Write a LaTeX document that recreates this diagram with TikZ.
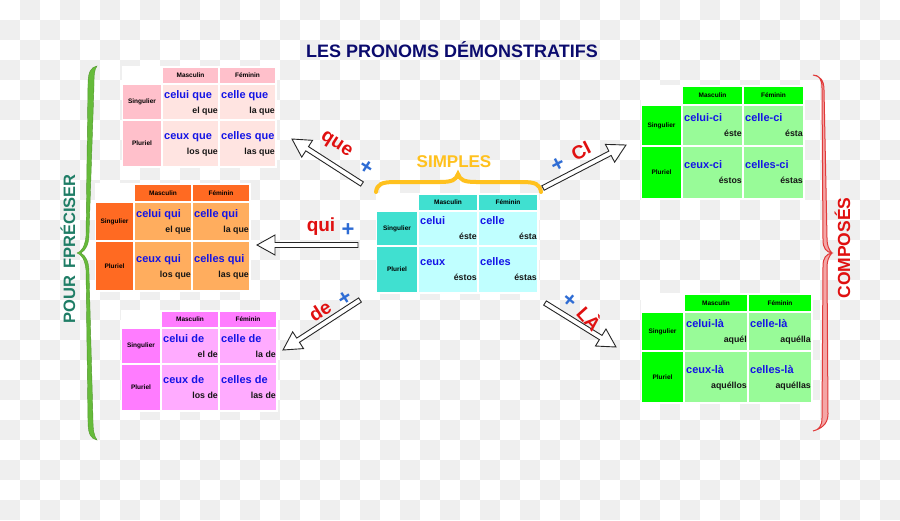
\documentclass[tikz,border=0pt]{standalone}
\usepackage{fontspec}
\setmainfont{Liberation Sans}
\usetikzlibrary{positioning,calc}

\definecolor{checker}{HTML}{EFEFEF}
\definecolor{titleblue}{HTML}{0B0B6E}
\definecolor{celltxt}{HTML}{1414E6}
\definecolor{darktxt}{HTML}{151515}
\definecolor{labelred}{HTML}{E01010}
\definecolor{plusblue}{HTML}{2E6CD4}
\definecolor{gold}{HTML}{FFC11E}
\definecolor{teal}{HTML}{1F7D66}
\definecolor{bracegreen}{HTML}{66BB3A}
\definecolor{bracered}{HTML}{E03A3A}
\definecolor{bracepink}{HTML}{F4A6A6}
\definecolor{quehead}{HTML}{FFC0CB}
\definecolor{quecell}{HTML}{FFE4E1}
\definecolor{quihead}{HTML}{FF6A22}
\definecolor{quicell}{HTML}{FFAD5E}
\definecolor{dehead}{HTML}{FF7CFF}
\definecolor{decell}{HTML}{FFABFF}
\definecolor{simplehead}{HTML}{40E0D0}
\definecolor{simplecell}{HTML}{C0FFFF}
\definecolor{cihead}{HTML}{00FF00}
\definecolor{cicell}{HTML}{98FB98}
\definecolor{lahead}{HTML}{00FF00}
\definecolor{lacell}{HTML}{98FB98}

\tikzset{
	cellbox/.style={inner sep=0pt, outer sep=0pt, font=\fontsize{6.5}{7}\selectfont\bfseries},
	bluetxt/.style={inner sep=0pt, text=celltxt, font=\fontsize{11}{12}\selectfont\bfseries},
	graytxt/.style={inner sep=0pt, text=darktxt, font=\fontsize{8.8}{10}\selectfont\bfseries},
	redtxt/.style={inner sep=0pt, text=labelred, font=\fontsize{19}{20}\selectfont\bfseries},
	plustxt/.style={inner sep=0pt, text=plusblue, font=\fontsize{22}{22}\selectfont\bfseries},
	blockarrow/.style={draw=black!85, line width=0.9pt, fill=white, line join=miter}
}

% table: name, x, y, row head width, col width, head height, sing height, plur height
\newcommand{\pronomtab}[8]{%
	\fill[white] (#2-1,#3-2) rectangle (#2+#4+2*#5+6,#3+#6+#7+#8+6);
	\node[cellbox, fill=#1head, minimum width=#5, minimum height=#6, anchor=north west] (#1-m) at (#2+#4+2,#3) {Masculin};
	\node[cellbox, fill=#1head, minimum width=#5, minimum height=#6, right=2pt of #1-m] (#1-f) {Féminin};
	\node[cellbox, fill=#1head, minimum width=#4, minimum height=#7, below left=2pt and 2pt of #1-m] (#1-s) {Singulier};
	\node[cellbox, fill=#1head, minimum width=#4, minimum height=#8, below=2pt of #1-s] (#1-p) {Pluriel};
	\node[cellbox, fill=#1cell, minimum width=#5, minimum height=#7, below=2pt of #1-m] (#1-sm) {};
	\node[cellbox, fill=#1cell, minimum width=#5, minimum height=#7, below=2pt of #1-f] (#1-sf) {};
	\node[cellbox, fill=#1cell, minimum width=#5, minimum height=#8, below=2pt of #1-sm] (#1-pm) {};
	\node[cellbox, fill=#1cell, minimum width=#5, minimum height=#8, below=2pt of #1-sf] (#1-pf) {};
}

\newcommand{\celltext}[3]{%
	\node[bluetxt, anchor=base west] (#1-b) at ($(#1.west)+(1,-4)$) {#2};
	\node[graytxt, anchor=base east] (#1-n) at ($(#1.east)+(0,11)$) {#3};
}

\newcommand{\hollowarrow}[2]{%
	\coordinate (#2-base) at ($(#2)!18pt!(#1)$);
	\draw[blockarrow] ($(#1)!2.5pt!90:(#2)$) -- ($(#2-base)!2.5pt!90:(#2)$)
		-- ($(#2-base)!10pt!90:(#2)$) -- (#2) -- ($(#2-base)!10pt!-90:(#2)$)
		-- ($(#2-base)!2.5pt!-90:(#2)$) -- ($(#1)!2.5pt!-90:(#2)$) -- cycle;
}

\begin{document}
\begin{tikzpicture}[x=1pt, y=-1pt]
	\useasboundingbox (0,0) rectangle (900,520);
	% background squares
	\fill[white] (0,0) rectangle (900,520);
	\foreach \i in {0,...,44}
		\foreach \j in {0,...,25} {
			\pgfmathtruncatemacro{\odd}{mod(\i+\j,2)}
			\ifnum\odd=1 \fill[checker] (20*\i,20*\j) rectangle ++(20,20); \fi
		}

	\node[anchor=base, text=titleblue, font=\fontsize{18}{20}\selectfont\bfseries] (title) at (452,57) {LES PRONOMS DÉMONSTRATIFS};

	% left tables
	\pronomtab{que}{123}{68}{38}{55}{15}{34}{45}
	\celltext{que-sm}{celui que}{el que}
	\celltext{que-sf}{celle que}{la que}
	\celltext{que-pm}{ceux que}{los que}
	\celltext{que-pf}{celles que}{las que}

	\pronomtab{qui}{96}{185}{37}{56}{16}{37}{48}
	\celltext{qui-sm}{celui qui}{el que}
	\celltext{qui-sf}{celle qui}{la que}
	\celltext{qui-pm}{ceux qui}{los que}
	\celltext{qui-pf}{celles qui}{las que}

	\pronomtab{de}{122}{312}{38}{56}{15}{34}{45}
	\celltext{de-sm}{celui de}{el de}
	\celltext{de-sf}{celle de}{la de}
	\celltext{de-pm}{ceux de}{los de}
	\celltext{de-pf}{celles de}{las de}

	% middle
	\pronomtab{simple}{377}{195}{40}{58}{15}{33}{45}
	\celltext{simple-sm}{celui}{éste}
	\celltext{simple-sf}{celle}{ésta}
	\celltext{simple-pm}{ceux}{éstos}
	\celltext{simple-pf}{celles}{éstas}

	\draw[gold, line width=4pt, line cap=round] (376,192) .. controls (377,184) and (382,182) .. (395,182) -- (440,182)
		.. controls (452,182) and (456,180) .. (458,174) .. controls (460,180) and (464,182) .. (476,182)
		-- (522,182) .. controls (535,182) and (540,184) .. (541,192);
	\node[anchor=base, text=gold, font=\fontsize{17}{18}\selectfont\bfseries] (simples) at (454,167) {SIMPLES};

	% right tables
	\pronomtab{ci}{642}{87}{39}{59}{17}{39}{51}
	\celltext{ci-sm}{celui-ci}{éste}
	\celltext{ci-sf}{celle-ci}{ésta}
	\celltext{ci-pm}{ceux-ci}{éstos}
	\celltext{ci-pf}{celles-ci}{éstas}

	\pronomtab{la}{642}{295}{41}{62}{16}{37}{50}
	\celltext{la-sm}{celui-là}{aquél}
	\celltext{la-sf}{celle-là}{aquélla}
	\celltext{la-pm}{ceux-là}{aquéllos}
	\celltext{la-pf}{celles-là}{aquéllas}

	% arrows
	\coordinate (que-tail) at (362,184);
	\coordinate (que-tip) at (292,139);
	\coordinate (qui-tail) at (358,245);
	\coordinate (qui-tip) at (257,245);
	\coordinate (de-tail) at (360,300);
	\coordinate (de-tip) at (283,350);
	\coordinate (ci-tail) at (543,188);
	\coordinate (ci-tip) at (626,145);
	\coordinate (la-tail) at (545,303);
	\coordinate (la-tip) at (616,347);
	\hollowarrow{que-tail}{que-tip}
	\hollowarrow{qui-tail}{qui-tip}
	\hollowarrow{de-tail}{de-tip}
	\hollowarrow{ci-tail}{ci-tip}
	\hollowarrow{la-tail}{la-tip}

	\node[redtxt, rotate=-33] (que-lbl) at (336,145) {que};
	\node[plustxt, rotate=-33] (que-plus) at (366,168) {+};
	\node[redtxt] (qui-lbl) at (321,227) {qui};
	\node[plustxt] (qui-plus) at (348,230) {+};
	\node[redtxt, rotate=33] (de-lbl) at (320,311) {de};
	\node[plustxt, rotate=33] (de-plus) at (345,299) {+};
	\node[plustxt, rotate=27] (ci-plus) at (558,165) {+};
	\node[redtxt, rotate=27] (ci-lbl) at (581,151) {CI};
	\node[plustxt, rotate=-40] (la-plus) at (570,301) {+};
	\node[redtxt, rotate=-48] (la-lbl) at (590,318) {LÀ};

	% side braces
	\filldraw[fill=bracegreen, draw=bracegreen!80!black, line width=0.4pt]
		(97,66) .. controls (91,67) and (88,72) .. (88,84) -- (86,236)
		.. controls (85,247) and (81,252) .. (77,253) .. controls (81,254) and (85,259) .. (86,270)
		-- (88,422) .. controls (88,434) and (91,439) .. (97,440)
		.. controls (94,436) and (93,430) .. (93,420) -- (89,272)
		.. controls (89,262) and (86,256) .. (81,253) .. controls (86,250) and (89,244) .. (89,234)
		-- (94,86) .. controls (94,76) and (94,70) .. (97,66) -- cycle;
	\node[anchor=base, rotate=90, text=teal, font=\fontsize{16.5}{18}\selectfont\bfseries] (preciser) at (75,249) {POUR\hspace{7pt}FPRÉCISER};

	\filldraw[fill=bracepink, draw=bracered, line width=1pt]
		(813,75) .. controls (819,75) and (822,79) .. (822,88) -- (823,240)
		.. controls (823,248) and (826,252) .. (832,253) .. controls (826,254) and (823,258) .. (823,266)
		-- (822,418) .. controls (822,426) and (819,430) .. (813,431)
		.. controls (820,429) and (828,425) .. (828,414) -- (827,268)
		.. controls (827,260) and (829,256) .. (832,253) .. controls (829,250) and (827,246) .. (827,238)
		-- (824,90) .. controls (824,80) and (820,76) .. (813,75) -- cycle;
	\node[anchor=base, rotate=90, text=labelred, font=\fontsize{17.5}{18}\selectfont\bfseries] (composes) at (850,248) {COMPOSÉS};
\end{tikzpicture}
\end{document}
